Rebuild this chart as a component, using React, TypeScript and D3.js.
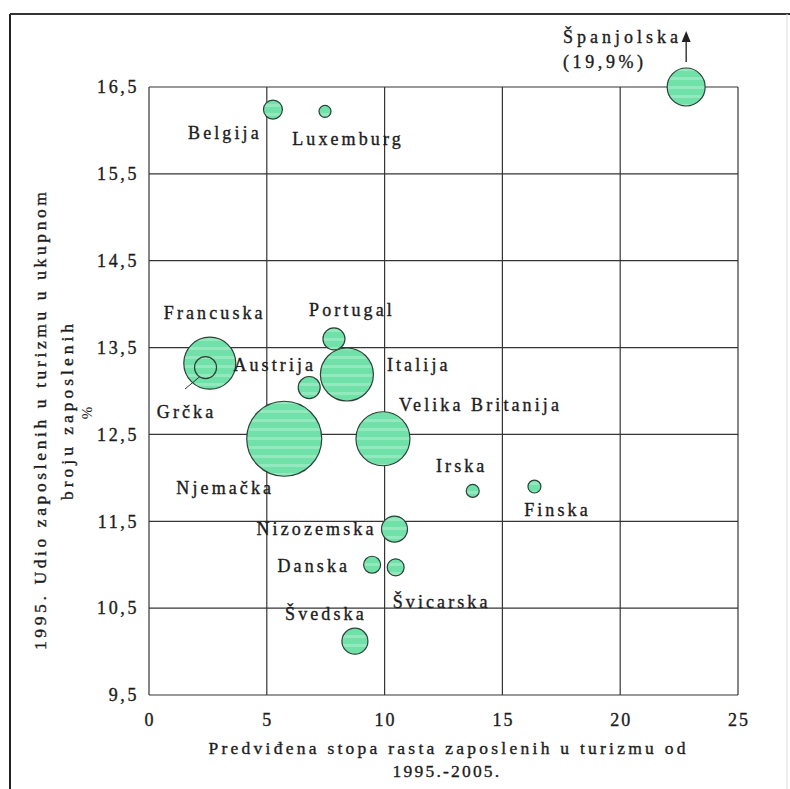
import * as d3 from "d3";

// countries, predicted growth 1995-2005 (x), share 1995 % (y), relative bubble size
const countries = [
  "Španjolska", "Belgija", "Luxemburg", "Francuska", "Grčka", "Portugal",
  "Italija", "Austrija", "Njemačka", "Velika Britanija", "Irska", "Finska",
  "Nizozemska", "Danska", "Švicarska", "Švedska",
];
const growth = [22.8, 5.26, 7.47, 2.58, 2.4, 7.85, 8.4, 6.8, 5.74, 9.93, 13.74, 16.36, 10.42, 9.47, 10.47, 8.74];
const share = [19.9, 16.24, 16.22, 13.32, 13.27, 13.6, 13.19, 13.04, 12.45, 12.45, 11.85, 11.9, 11.41, 11.0, 10.97, 10.12];
const size = [361, 90, 36, 676, 121, 121, 702, 121, 1406, 729, 42, 42, 169, 72, 72, 169];

const xTicks = [0, 5, 10, 15, 20, 25];
const yTicks = [9.5, 10.5, 11.5, 12.5, 13.5, 14.5, 15.5, 16.5];

// label placement relative to bubble centre
const labelPos: Record<string, { dx: number; dy: number; anchor: string }> = {
  "Belgija": { dx: -48, dy: 29, anchor: "middle" },
  "Luxemburg": { dx: 23, dy: 34, anchor: "middle" },
  "Francuska": { dx: 5, dy: -44, anchor: "middle" },
  "Grčka": { dx: -19, dy: 50, anchor: "middle" },
  "Portugal": { dx: 18, dy: -23, anchor: "middle" },
  "Italija": { dx: 40, dy: -3, anchor: "start" },
  "Austrija": { dx: 7, dy: -17, anchor: "end" },
  "Njemačka": { dx: -59, dy: 55, anchor: "middle" },
  "Velika Britanija": { dx: 16, dy: -28, anchor: "start" },
  "Irska": { dx: -11, dy: -19, anchor: "middle" },
  "Finska": { dx: 23, dy: 29, anchor: "middle" },
  "Nizozemska": { dx: -18, dy: 6, anchor: "end" },
  "Danska": { dx: -22, dy: 7, anchor: "end" },
  "Švicarska": { dx: -3, dy: 41, anchor: "start" },
  "Švedska": { dx: -29, dy: -21, anchor: "middle" },
};

const fmt = (v: number) => String(v).replace(".", ",");

export default function App() {
  const W = 790, H = 789;
  const left = 149, right = 738, top = 87, bottom = 695;

  const x = d3.scaleLinear().domain([0, 25]).range([left, right]);
  const y = d3.scaleLinear().domain([9.5, 16.5]).range([bottom, top]);
  const r = d3.scaleSqrt().domain([0, 1406]).range([0, 37.5]);

  const font = "'Liberation Serif', 'Times New Roman', serif";
  const ink = "#1c1c1c";
  const grid = "#353535";
  const heavy = { stroke: ink, strokeWidth: 0.35 };

  const pts = countries.map((c, i) => ({
    name: c,
    cx: x(growth[i]),
    cy: y(Math.min(share[i], 16.5)),
    r: r(size[i]),
    share: share[i],
  }));
  // draw big ones first so small ones stay visible
  const order = [...pts].sort((a, b) => b.r - a.r);
  const spain = pts[0];
  const greece = pts.find((p) => p.name === "Grčka")!;

  return (
    <svg
      width={W}
      height={H}
      style={{ position: "absolute", left: 0, top: 0, background: "#fff" }}
      fontFamily={font}
    >
      <defs>
        <pattern id="stripes" patternUnits="userSpaceOnUse" width="12" height="9">
          <rect width="12" height="9" fill="#70e1a8" />
          <rect y="5" width="12" height="3" fill="#93e8bd" />
        </pattern>
      </defs>

      {/* outer frame */}
      <line x1={10} x2={10} y1={14} y2={H} stroke="#222" strokeWidth={2} />
      <line x1={10} x2={W} y1={14} y2={14} stroke="#333" strokeWidth={2} />
      <line x1={787} x2={787} y1={14} y2={H} stroke="#ddd" strokeWidth={1} />

      {/* grid */}
      {xTicks.map((t) => (
        <line key={"gx" + t} x1={x(t)} x2={x(t)} y1={top} y2={bottom} stroke={grid} strokeWidth={1.2} />
      ))}
      {yTicks.map((t) => (
        <line key={"gy" + t} x1={left} x2={right} y1={y(t)} y2={y(t)} stroke={grid} strokeWidth={1.2} />
      ))}

      {/* tick labels */}
      {yTicks.map((t) => (
        <text key={"ty" + t} x={139} y={y(t)} dy="0.35em" textAnchor="end" fontSize={18}
          letterSpacing={2.6} fill={ink} {...heavy}>
          {fmt(t)}
        </text>
      ))}
      {xTicks.map((t) => (
        <text key={"tx" + t} x={x(t) + 1} y={726} textAnchor="middle" fontSize={18}
          letterSpacing={2} fill={ink} {...heavy}>
          {t}
        </text>
      ))}

      {/* axis titles */}
      <text x={447} y={754} textAnchor="middle" fontSize={17.5} fill={ink} {...heavy}
        textLength={477} lengthAdjust="spacing">
        Predviđena stopa rasta zaposlenih u turizmu od
      </text>
      <text x={447} y={777} textAnchor="middle" fontSize={17.5} letterSpacing={2.2} fill={ink} {...heavy}>
        1995.-2005.
      </text>
      <g transform="translate(46,421) rotate(-90)">
        <text textAnchor="middle" fontSize={17.5} fill={ink} {...heavy} textLength={458} lengthAdjust="spacing">
          1995. Udio zaposlenih u turizmu u ukupnom
        </text>
      </g>
      <g transform="translate(73,412) rotate(-90)">
        <text textAnchor="middle" fontSize={17.5} fill={ink} {...heavy} textLength={176} lengthAdjust="spacing">
          broju zaposlenih
        </text>
      </g>
      <g transform="translate(92,413) rotate(-90)">
        <text textAnchor="middle" fontSize={15} fill={ink}>%</text>
      </g>

      {/* bubbles */}
      {order.map((p) => (
        <circle key={p.name} cx={p.cx} cy={p.cy} r={p.r} fill="url(#stripes)" stroke="#2b4236" strokeWidth={1.2} />
      ))}

      {/* Grčka leader line */}
      <line
        x1={greece.cx - greece.r * 0.55}
        y1={greece.cy + greece.r * 0.85}
        x2={185}
        y2={389}
        stroke="#333"
        strokeWidth={1}
      />

      {/* Španjolska arrow: value off the scale */}
      <line x1={spain.cx} x2={spain.cx} y1={spain.cy - spain.r - 6} y2={40} stroke="#222" strokeWidth={1.3} />
      <path d={`M${spain.cx - 4.5},${42} L${spain.cx + 4.5},${42} L${spain.cx},${31} Z`} fill="#222" />
      <text x={563} y={43} fontSize={18} letterSpacing={4} fill={ink} {...heavy}>Španjolska</text>
      <text x={563} y={68} fontSize={18} letterSpacing={3.6} fill={ink} {...heavy}>({fmt(spain.share)}%)</text>

      {/* country labels */}
      {pts.filter((p) => labelPos[p.name]).map((p) => {
        const l = labelPos[p.name];
        return (
          <text key={"l" + p.name} x={p.cx + l.dx} y={p.cy + l.dy} textAnchor={l.anchor}
            fontSize={18} letterSpacing={3.1} fill={ink} {...heavy}>
            {p.name}
          </text>
        );
      })}
    </svg>
  );
}
